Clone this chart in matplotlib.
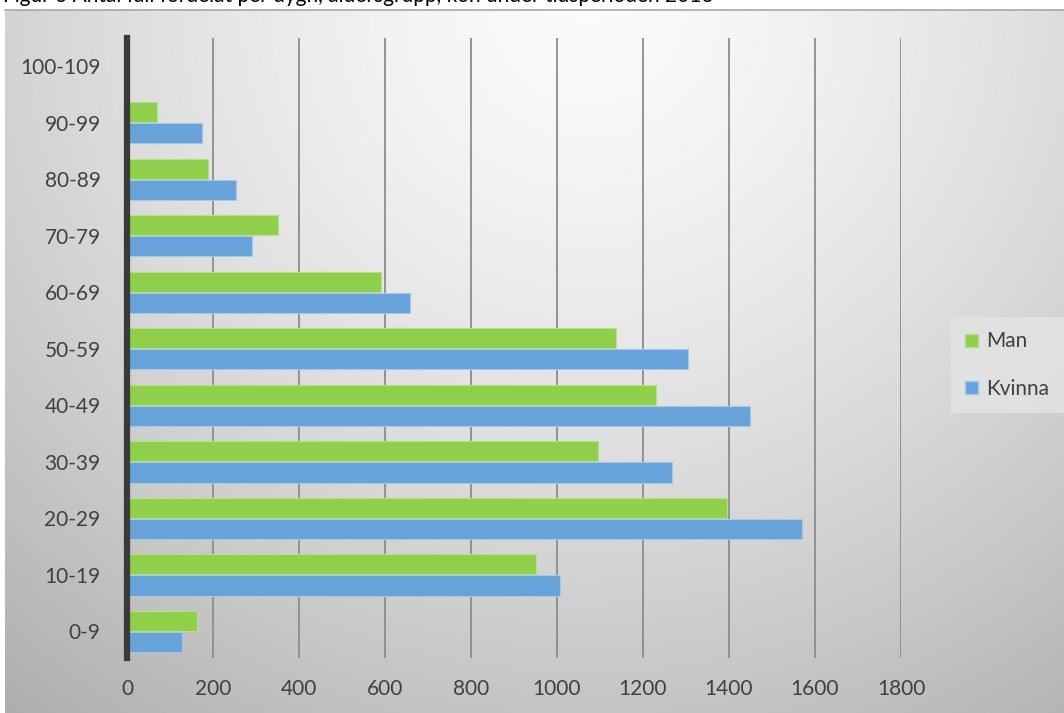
import numpy as np
import matplotlib
matplotlib.use('Agg')
import matplotlib.pyplot as plt
from matplotlib.patches import Patch

# data
groups = ['0-9', '10-19', '20-29', '30-39', '40-49', '50-59',
          '60-69', '70-79', '80-89', '90-99', '100-109']
man = [162, 950, 1395, 1095, 1230, 1137, 591, 352, 188, 69, 0]
kvinna = [127, 1008, 1570, 1267, 1449, 1305, 658, 291, 253, 174, 0]
xticks = [0, 200, 400, 600, 800, 1000, 1200, 1400, 1600, 1800]

green = '#8fcf4b'
blue = '#67a2d9'

plt.rcParams['font.family'] = ['Lato', 'DejaVu Sans']

W, H = 1064, 713
fig = plt.figure(figsize=(W/100., H/100.), dpi=100)

# background gradient panel
bg = fig.add_axes([5./W, 0, 1-5./W, 1-10./H])
nx, ny = 400, 270
xx, yy = np.meshgrid(np.linspace(0, 1, nx), np.linspace(0, 1, ny))
r = np.sqrt(((xx-0.55)/0.72)**2 + ((yy-0.0)/1.05)**2)
shade = 0.985 - 0.23*np.clip(r, 0, 1.3)**1.4
bg.imshow(np.dstack([shade]*3), aspect='auto', extent=(0, 1, 1, 0))
bg.set_axis_off()
fig.add_artist(plt.Line2D([5./W, 1], [1-9.5/H, 1-9.5/H], color='#a8a8a8', lw=1.2))

# caption, cut off by the top edge as in the original
fig.text(3./W, 1-2./H, 'Figur 3 Antal fall fördelat per dygn, åldersgrupp, kön under tidsperioden 2016',
         fontsize=15, va='baseline', ha='left', color='black')

ax = fig.add_axes([127./W, 1-658./H, (901.-127.)/W, (658.-38.)/H])
ax.patch.set_alpha(0)

y = np.arange(len(groups))
h = 0.355
ax.barh(y + h/2 + 0.01, man, height=h, color=green, edgecolor='#b5e08a', lw=0.8, label='Man', zorder=3)
ax.barh(y - h/2 - 0.01, kvinna, height=h, color=blue, edgecolor='#a5c8ea', lw=0.8, label='Kvinna', zorder=3)

ax.set_xlim(0, 1800)
ax.set_ylim(-0.47, len(groups)-0.5)
ax.set_xticks(xticks)
ax.set_yticks(y)
ax.set_yticklabels(groups)
ax.xaxis.grid(True, color='#8c8c8c', lw=1.3, zorder=1)
ax.set_axisbelow(True)
for s in ['top', 'right', 'bottom']:
    ax.spines[s].set_visible(False)
ax.spines['left'].set_color('#3a3a3a')
ax.spines['left'].set_linewidth(4.5)
ax.spines['left'].set_zorder(5)
ax.tick_params(axis='both', length=0, labelsize=15, labelcolor='#404040')
ax.tick_params(axis='x', pad=15)
ax.tick_params(axis='y', pad=19)

leg_handles = [Patch(facecolor=green, edgecolor='#b5e08a'), Patch(facecolor=blue, edgecolor='#a5c8ea')]
leg = fig.legend(leg_handles, ['Man', 'Kvinna'], loc='center', bbox_to_anchor=(1007./W, 1-365./H),
                 frameon=True, fontsize=15, handlelength=0.6, handleheight=0.6, handletextpad=0.4,
                 labelspacing=1.3, borderpad=0.7, labelcolor='#404040')
leg.get_frame().set_facecolor('#e4e4e4')
leg.get_frame().set_edgecolor('none')
leg.get_frame().set_alpha(0.8)
leg.get_frame().set_boxstyle('square', pad=0.0)

fig.savefig('out.png', dpi=100)
